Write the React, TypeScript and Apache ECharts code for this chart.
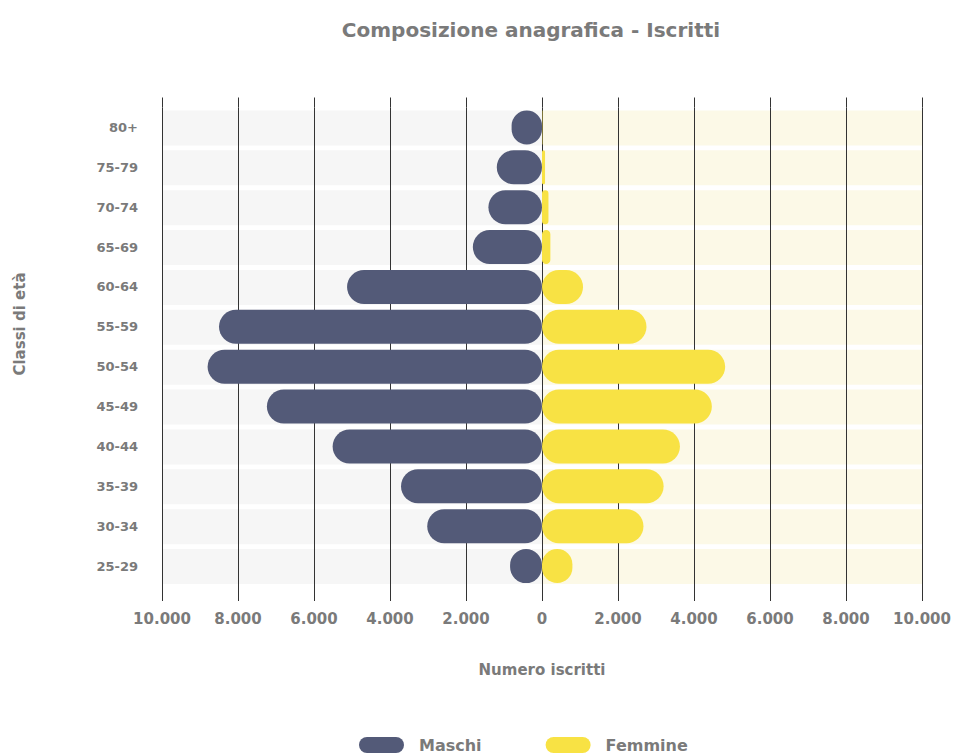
import React, { useEffect, useRef } from "react";
import * as echarts from "echarts";

const categories = ["25-29", "30-34", "35-39", "40-44", "45-49", "50-54", "55-59", "60-64", "65-69", "70-74", "75-79", "80+"];
const maschi = [840, 3020, 3710, 5510, 7240, 8800, 8500, 5130, 1820, 1410, 1190, 800];
const femmine = [800, 2670, 3200, 3630, 4470, 4820, 2750, 1080, 220, 170, 80, 10];
const axisMax = 10000;
const axisStep = 2000;

const FONT = "DejaVu Sans";
const GREY = "#7a7a7a";

function fmt(v: number): string {
  const a = Math.abs(v);
  return a.toString().replace(/\B(?=(\d{3})+(?!\d))/g, ".");
}

export default function App() {
  const ref = useRef<HTMLDivElement>(null);
  useEffect(() => {
    document.body.style.margin = "0";
    const chart = echarts.init(ref.current!, null, { renderer: "svg" });
    const pill = "path://M8,0 L37,0 A8,8 0 0 1 37,16 L8,16 A8,8 0 0 1 8,0 Z";
    const common = { type: "bar", barGap: "-100%", animation: false } as any;
    chart.setOption({
      animation: false,
      textStyle: { fontFamily: FONT },
      title: {
        text: "Composizione anagrafica - Iscritti",
        left: 526,
        textAlign: "center",
        top: 15,
        textStyle: { fontFamily: FONT, fontWeight: "bold", fontSize: 20, color: GREY },
      },
      legend: {
        data: [
          { name: "Maschi", icon: pill },
          { name: "Femmine", icon: pill },
        ],
        left: 354,
        top: 732,
        itemWidth: 45,
        itemHeight: 17,
        itemGap: 64,
        textStyle: { fontFamily: FONT, fontWeight: "bold", fontSize: 16, color: GREY, padding: [0, 0, 0, 10] },
      },
      graphic: [
        {
          type: "text",
          x: 20,
          y: 324,
          rotation: Math.PI / 2,
          style: {
            text: "Classi di età",
            fill: GREY,
            font: `bold 15px "${FONT}"`,
            textAlign: "center",
            textVerticalAlign: "middle",
          },
        },
      ],
      grid: { left: 162, right: 32, top: 107.5, bottom: 170, containLabel: false },
      xAxis: [
        {
          type: "value",
          min: -axisMax,
          max: axisMax,
          interval: axisStep,
          position: "bottom",
          axisLine: { show: false },
          axisTick: { show: true, length: 15, lineStyle: { color: "#333" } },
          splitLine: { show: true, lineStyle: { color: "#333", width: 1 } },
          axisLabel: {
            formatter: (v: number) => fmt(v),
            fontFamily: FONT,
            fontWeight: "bold",
            fontSize: 15,
            color: GREY,
            margin: 25,
          },
          name: "Numero iscritti",
          nameLocation: "middle",
          nameGap: 76,
          nameTextStyle: { fontFamily: FONT, fontWeight: "bold", fontSize: 15, color: GREY },
        },
        {
          type: "value",
          min: -axisMax,
          max: axisMax,
          interval: axisStep,
          position: "top",
          axisLine: { show: false },
          axisTick: { show: true, length: 10, lineStyle: { color: "#333" } },
          splitLine: { show: false },
          axisLabel: { show: false },
        },
      ],
      yAxis: {
        type: "category",
        data: categories,
        axisLine: { show: false },
        axisTick: { show: false },
        axisLabel: { fontFamily: FONT, fontWeight: "bold", fontSize: 13, color: GREY, margin: 24 },
      },
      series: [
        {
          ...common,
          name: "bgM",
          z: -1,
          silent: true,
          barWidth: 35,
          data: categories.map(() => -axisMax),
          itemStyle: { color: "#f6f6f6" },
        },
        {
          ...common,
          name: "bgF",
          z: -1,
          silent: true,
          barWidth: 35,
          data: categories.map(() => axisMax),
          itemStyle: { color: "#fcf9e7" },
        },
        {
          ...common,
          name: "Maschi",
          barWidth: 34,
          data: maschi.map((v) => -v),
          itemStyle: { color: "#535a78", borderRadius: 17 },
        },
        {
          ...common,
          name: "Femmine",
          barWidth: 34,
          data: femmine,
          itemStyle: { color: "#f8e244", borderRadius: 17 },
        },
      ],
    });
    return () => chart.dispose();
  }, []);
  return <div ref={ref} style={{ width: 954, height: 756 }} />;
}
